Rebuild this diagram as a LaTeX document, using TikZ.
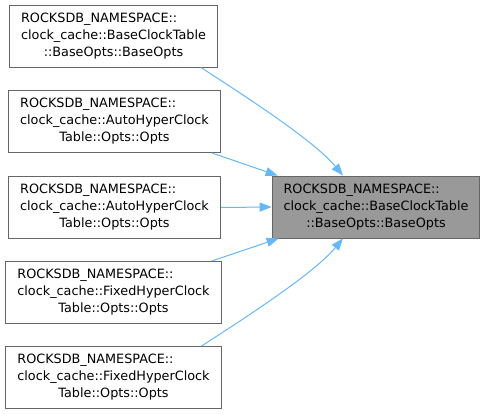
\documentclass[tikz,border=0pt]{standalone}
\usepackage{fontspec}
\setmainfont{DejaVu Sans}
\usetikzlibrary{arrows.meta}
\definecolor{edgeblue}{HTML}{63B8FF}
\definecolor{boxline}{HTML}{666666}
\definecolor{hlfill}{HTML}{999999}
\newcommand{\dlabel}[3]{\begin{tabular}{@{}l@{}}#1\\#2\\\multicolumn{1}{@{}c@{}}{#3}\end{tabular}}
\tikzset{
  box/.style  = {draw=boxline, line width=0.9pt, fill=white, inner xsep=11.5pt, inner ysep=0pt,
                 minimum height=62pt, font=\fontsize{12.8}{17}\selectfont},
  hbox/.style = {box, fill=hlfill},
  edge/.style = {edgeblue, line width=1pt, -{Triangle[length=12pt,width=9pt]}},
}
\begin{document}
\begin{tikzpicture}[x=1pt,y=-1pt]
  \useasboundingbox (0,0) rectangle (486,414);
  % callers
  \node[box] (b1) at (113.5,36)  {\dlabel{ROCKSDB\_NAMESPACE::}{clock\_cache::BaseClockTable}{::BaseOpts::BaseOpts}};
  \node[box] (b2) at (114.5,121.5) {\dlabel{ROCKSDB\_NAMESPACE::}{clock\_cache::AutoHyperClock}{Table::Opts::Opts}};
  \node[box] (b3) at (114.5,207.5) {\dlabel{ROCKSDB\_NAMESPACE::}{clock\_cache::AutoHyperClock}{Table::Opts::Opts}};
  \node[box] (b4) at (113.5,292.5) {\dlabel{ROCKSDB\_NAMESPACE::}{clock\_cache::FixedHyperClock}{Table::Opts::Opts}};
  \node[box] (b5) at (113.5,377.5) {\dlabel{ROCKSDB\_NAMESPACE::}{clock\_cache::FixedHyperClock}{Table::Opts::Opts}};
  % the function itself
  \node[hbox] (base) at (376,207) {\dlabel{ROCKSDB\_NAMESPACE::}{clock\_cache::BaseClockTable}{::BaseOpts::BaseOpts}};
  \draw[edge] ([xshift=-17pt]b1.south east) .. controls +(40,26) and +(-30,-36) .. ([xshift=-33pt]base.north);
  \draw[edge] ([xshift=-9pt]b2.south east) -- ([xshift=6pt]base.north west);
  \draw[edge] (b3.east) -- (base.west);
  \draw[edge] ([xshift=-10pt]b4.north east) -- ([xshift=7pt]base.south west);
  \draw[edge] ([xshift=-20pt]b5.north east) .. controls +(40,-26) and +(-30,36) .. ([xshift=-33pt]base.south);
\end{tikzpicture}
\end{document}
